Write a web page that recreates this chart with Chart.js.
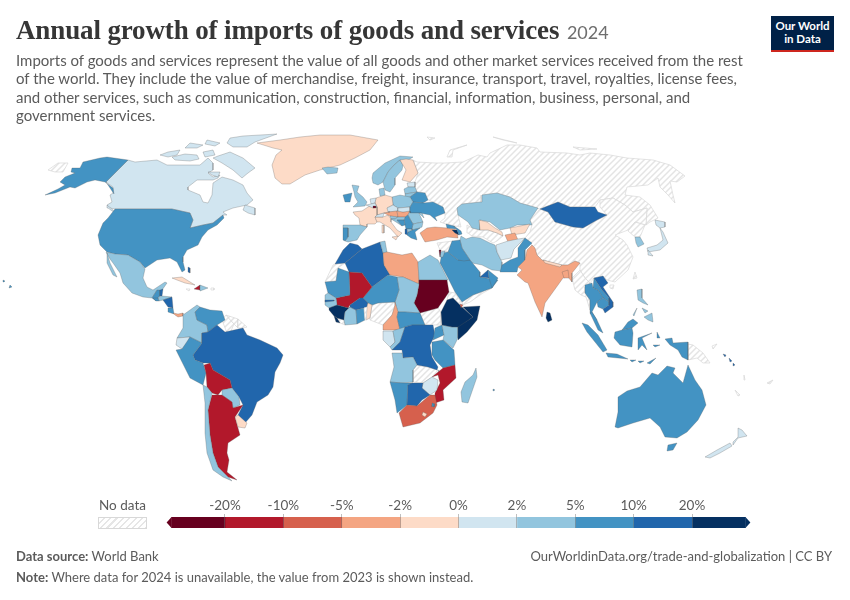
<!DOCTYPE html>
<html>
<head>
<meta charset="utf-8">
<title>Annual growth of imports of goods and services</title>
<script src="https://cdn.jsdelivr.net/npm/chart.js@4"></script>
<style>
  html, body { margin: 0; padding: 0; background: #fff; }
  #page { position: relative; width: 850px; height: 600px; overflow: hidden; font-family: Lato, sans-serif; color: #5b5b5b; }
  #page canvas { position: absolute; left: 0; }
  .txt { position: absolute; white-space: nowrap; }
  #title { left: 16px; top: 15px; font: bold 27px "Liberation Serif", serif; color: #363636; letter-spacing: -0.13px; }
  #title span { font: 18px Lato, sans-serif; color: #6e6e6e; letter-spacing: 0; margin-left: 1px; }
  #subtitle { left: 16px; top: 51px; font-size: 15px; line-height: 18.4px; }
  #logo { position: absolute; left: 771px; top: 16px; width: 63px; height: 34px; background: #002147; border-bottom: 2px solid #ce261e; color: #fff; font-weight: bold; font-size: 11.5px; line-height: 12.5px; text-align: center; }
  #logo div { padding-top: 4px; }
  #nodata { left: 99px; top: 497px; font-size: 13.5px; }
  #swatch { position: absolute; left: 98px; top: 517px; width: 47px; height: 10px; border: 1px solid #d8d8d8; background: repeating-linear-gradient(135deg, #fff 0 3px, #e6e6e6 3px 4.5px); }
  #source { left: 16px; top: 548px; font-size: 13px; }
  #site { right: 18px; top: 548px; font-size: 13px; }
  #note { left: 16px; top: 569px; font-size: 13px; }
</style>
</head>
<body>
<div id="page">
  <canvas id="map" width="850" height="600" style="top:0"></canvas>
  <canvas id="scale" width="850" height="50" style="top:490px"></canvas>
  <div class="txt" id="title">Annual growth of imports of goods and services <span>2024</span></div>
  <div class="txt" id="subtitle">Imports of goods and services represent the value of all goods and other market services received from the rest<br>of the world. They include the value of merchandise, freight, insurance, transport, travel, royalties, license fees,<br>and other services, such as communication, construction, financial, information, business, personal, and<br>government services.</div>
  <div id="logo"><div>Our World<br>in Data</div></div>
  <div class="txt" id="nodata">No data</div>
  <div id="swatch"></div>
  <div class="txt" id="source"><b>Data source:</b> World Bank</div>
  <div class="txt" id="site">OurWorldinData.org/trade-and-globalization | CC BY</div>
  <div class="txt" id="note"><b>Note:</b> Where data for 2024 is unavailable, the value from 2023 is shown instead.</div>
</div>
<script>
// growth in %, only the colour bin can be read off the map so values are estimates. null = no data
const countries = [
  "Russia", "China", "Turkmenistan", "North Korea", "Taiwan", "Myanmar", "Syria", "Yemen", "Eritrea", "South Sudan",
  "Nigeria", "Zambia", "Liberia", "Western Sahara", "Guyana", "Suriname", "French Guiana", "Papua New Guinea", "Jamaica", "New Caledonia",
  "Canada", "United States", "Mexico", "Greenland", "Iceland", "Guatemala", "Belize", "Honduras", "El Salvador", "Nicaragua",
  "Costa Rica", "Panama", "Cuba", "Haiti", "Dominican Republic", "Bahamas", "Colombia", "Venezuela", "Brazil", "Ecuador",
  "Peru", "Bolivia", "Paraguay", "Argentina", "Chile", "Uruguay", "Norway", "Sweden", "Finland", "Estonia",
  "Latvia", "Lithuania", "Belarus", "Poland", "Germany", "Denmark", "United Kingdom", "Ireland", "France", "Spain",
  "Portugal", "Italy", "Switzerland", "Netherlands", "Belgium", "Luxembourg", "Czechia", "Austria", "Hungary", "Slovakia",
  "Slovenia", "Ukraine", "Moldova", "Romania", "Bulgaria", "Serbia", "Croatia", "Bosnia", "Albania", "Greece",
  "Turkey", "Georgia", "Armenia", "Azerbaijan", "Kazakhstan", "Uzbekistan", "Kyrgyzstan", "Tajikistan", "Iran", "Afghanistan",
  "Pakistan", "India", "Nepal", "Bangladesh", "Sri Lanka", "Mongolia", "Saudi Arabia", "Iraq", "Jordan", "Israel",
  "UAE", "Oman", "Morocco", "Algeria", "Tunisia", "Libya", "Egypt", "Sudan", "Chad", "Niger",
  "Mali", "Mauritania", "Senegal", "Guinea", "Sierra Leone", "Ivory Coast", "Burkina Faso", "Ghana", "Benin", "Cameroon",
  "Central African Republic", "Gabon", "Congo", "DR Congo", "Uganda", "Kenya", "Ethiopia", "Somalia", "Djibouti", "Tanzania",
  "Angola", "Malawi", "Mozambique", "Zimbabwe", "Namibia", "Botswana", "South Africa", "Lesotho", "Eswatini", "Madagascar",
  "Vietnam", "Laos", "Thailand", "Cambodia", "Malaysia", "Indonesia", "Philippines", "Japan", "South Korea", "Australia",
  "New Zealand", "Solomon Islands", "Togo", "Fiji", "Vanuatu", "Puerto Rico", "Mauritius", "Gambia", "North Macedonia"
];
const growth = [
  null, null, null, null, null, null, null, null, null, null,
  null, null, null, null, null, null, null, null, null, null,
  1.2, 6.4, 3.6, -0.8, 3.1, 7.2, 12, 4.1, 8, 13,
  6.5, -3.2, -1.1, -14, 3.5, 14, 4.2, 7.5, 14.5, 1.4,
  6.2, -13, 2.8, -11, 3.3, -0.9, 3.7, 3.4, -1.2, 1.1,
  3.2, 2.9, 7.1, 3.8, -0.6, 4.4, 3.6, 8.2, -1.3, 3.9,
  6.8, -0.7, 1.5, 1.3, 1.6, -25, 1.2, -3.1, -2.6, 1.7,
  3.3, 7.6, 4.5, 4.1, 3.2, 8.8, 3.9, 8.3, 12, 7.3,
  -4.2, 7.7, 28, 8.1, 4.3, -1.5, -1.4, -3.3, 3.6, 1.8,
  7.4, -3.9, -1.6, -3.4, 26, 13.5, 6.6, 7.9, 3.4, -22,
  12.5, 7.1, 12.2, 11.8, 3.5, -4.1, 3.1, -32, 3.8, 7.3,
  -14, 7.2, 4.2, 27, 24, 3.7, 13, 7.4, -1.7, -3.6,
  7.8, 1.6, 3.2, 13.2, 8.4, 3.8, 29, 31, -6.5, 7.5,
  3.4, 3.9, -12, 1.9, 7.7, 12.8, -7.2, -1.8, 7.9, 3.3,
  14, 7.2, 6.9, 8.6, 7, 7.1, 3.6, 1.3, 3.5, 6.7,
  1.4, 13.6, null, null, null, null, 7.5, 13, 3.1
];
// country outlines in map units, traced by hand; "|" separates islands and other parts
const outlines = {
  "Russia": "413,160 417,162 435,163 445,163 463,162 478,155 487,157 490,153 507,145 520,145 537,148 540,152 567,153 580,155 590,153 610,155 627,158 653,160 670,165 685,176 677,182 670,181 673,195 675,203 668,195 660,187 658,178 648,185 627,187 625,195 640,197 650,205 658,218 650,222 646,225 647,208 633,212 625,205 613,198 600,200 595,207 570,207 558,202 540,209 520,203 510,197 497,193 482,195 481,202 462,204 457,208 458,215 461,227 455,226 446,224 440,222 445,218 445,213 443,207 433,202 428,200 425,193 417,192 415,187 415,182 418,173|447,157 450,150 467,145 453,150 452,157|493,137 517,143 503,140|573,147 597,149 580,150|427,137 435,138 430,140|48,170 58,163 68,163 63,172 55,172",
  "China": "530,220 540,209 548,212 555,222 573,227 583,228 597,220 607,215 600,207 600,200 613,198 625,205 633,212 647,208 646,225 635,222 628,230 615,235 623,240 627,245 633,257 628,270 615,282 607,280 603,276 594,278 590,283 585,278 580,270 580,263 575,261 568,265 560,265 542,260 537,255 532,245 525,238 530,232 532,225|610,285 614,285 613,289 610,288",
  "Turkmenistan": "467,225 472,228 480,230 488,230 497,233 503,236 497,241 493,243 483,237 472,236 468,233",
  "North Korea": "628,231 635,222 645,225 640,237 635,237",
  "Taiwan": "635,272 637,278 633,279",
  "Myanmar": "572,278 580,270 585,278 590,283 585,287 585,293 590,300 590,310 586,297 581,295 575,290",
  "Syria": "437,243 453,241 448,252 440,250",
  "Yemen": "462,302 473,295 492,288 483,293 470,302 463,305",
  "Eritrea": "449,292 455,293 463,305 460,304 453,298 447,300",
  "South Sudan": "420,313 438,308 441,312 441,323 441,325 433,325 425,325",
  "Nigeria": "372,305 378,303 395,302 395,305 392,315 383,325 370,320 370,318",
  "Zambia": "417,365 428,367 438,370 432,377 423,383 413,382 413,370",
  "Liberia": "337,318 344,320 345,325 340,323",
  "Western Sahara": "325,282 333,265 335,264 345,263 338,268 336,281",
  "Guyana": "222,320 226,315 234,324 230,333 227,333",
  "Suriname": "234,324 226,315 238,319 238,328",
  "French Guiana": "238,319 247,327 243,328 238,328",
  "Papua New Guinea": "688,344 693,345 703,353 710,363 703,363 697,358 688,360|712,346 717,344 713,349",
  "Jamaica": "186,289 190,289 189,291",
  "New Caledonia": "735,390 740,395 738,396",
  "Canada": "128,160 135,162 157,160 167,165 180,165 200,165 208,158 213,163 213,170 208,173 213,177 220,175 218,178 213,180 197,180 188,187 188,190 200,195 203,202 208,203 212,195 213,183 222,177 233,180 243,185 247,193 253,200 247,205 233,208 223,212 227,215 223,215 213,223 203,225 190,228 193,220 190,213 172,209 115,209 110,208 107,205 112,202 110,195 113,193 113,187 106,182|245,205 255,208 255,215 248,213 243,210|107,205 113,210 115,213 108,208|230,138 243,136 277,134 255,142 247,147 233,147 227,143|207,140 220,143 215,146 205,144|190,143 203,145 197,148 185,148|160,155 168,152 180,150 177,155 168,157|172,157 185,154 197,155 199,159 190,161 175,160|218,156 230,152 243,158 255,168 248,173 242,178 233,170 222,163 213,158|208,172 220,172 218,177 212,175|203,152 213,150 215,155 205,157",
  "United States": "115,209 172,209 190,213 193,220 190,228 203,225 213,223 223,215 224,218 217,225 208,230 202,237 198,245 187,250 183,257 183,262 185,270 182,272 177,262 170,258 157,260 145,268 140,262 133,258 128,255 115,254 107,252 100,245 98,235 103,223 108,218|128,160 107,157 100,158 83,162 80,168 72,168 71,172 75,173 65,177 60,182 65,185 58,189 45,195 55,193 70,187 75,188 87,182 95,180 105,182 113,188 114,194 110,188 106,182|10,285 12,287 9,288|3,280 5,281 4,282",
  "Mexico": "106,252 115,254 128,255 133,258 140,262 145,269 143,278 147,287 153,290 165,282 167,283 160,293 157,290 152,298 143,297 132,293 123,283 120,273 113,263 110,259|107,253 110,263 117,277 113,275 107,263",
  "Greenland": "257,143 280,140 300,137 320,135 350,135 378,140 370,150 355,158 340,165 320,170 305,175 290,184 282,184 275,178 272,165 276,155 282,150 273,148",
  "Iceland": "322,168 328,167 338,168 337,173 327,174",
  "Guatemala": "152,298 157,290 160,290 160,296 156,301",
  "Belize": "160,290 163,289 162,296 160,296",
  "Honduras": "158,297 162,296 172,297 163,300 159,301",
  "El Salvador": "153,298 158,298 159,301 156,301",
  "Nicaragua": "163,300 172,297 173,308 168,307",
  "Costa Rica": "168,308 173,308 174,314 168,312",
  "Panama": "173,313 178,314 183,313 183,316 178,317 175,315",
  "Cuba": "172,278 182,277 195,285 185,283 177,280",
  "Haiti": "194,289 200,285 200,290",
  "Dominican Republic": "200,285 208,288 200,291",
  "Bahamas": "188,267 190,268 190,273 188,272",
  "Colombia": "183,315 197,305 200,307 195,312 197,320 207,325 208,332 202,333 202,343 190,337 177,338 183,328",
  "Venezuela": "195,312 200,307 210,310 222,311 225,320 217,325 208,332 207,325 197,320",
  "Brazil": "202,333 208,332 217,325 225,332 243,328 247,335 260,340 277,348 283,355 280,363 275,372 273,387 268,395 257,402 252,415 245,423 238,415 243,405 239,397 232,388 230,380 213,370 210,363 203,363 195,360 193,355 202,343",
  "Ecuador": "177,338 190,337 188,342 182,349 176,345",
  "Peru": "190,337 202,343 193,355 195,360 203,363 206,373 203,385 190,378 182,362 176,350 182,349",
  "Bolivia": "204,365 210,363 213,370 230,380 232,388 222,390 218,395 212,393 207,387 206,373",
  "Paraguay": "222,390 232,388 239,397 240,405 233,408 232,402 222,395",
  "Argentina": "212,395 218,395 222,395 232,402 233,408 243,405 235,417 238,428 240,435 228,443 227,453 229,460 227,472 237,480 228,477 218,467 213,453 210,435 208,410",
  "Chile": "203,385 207,387 212,393 208,410 210,435 213,453 218,467 228,477 232,481 223,477 213,470 207,453 205,433 205,403",
  "Uruguay": "235,417 238,415 247,423 245,428 238,427",
  "Norway": "372,178 373,173 385,163 400,156 413,157 405,162 400,160 394,165 388,172 383,182 378,185 373,183",
  "Sweden": "383,182 388,172 394,165 400,160 403,165 402,170 395,178 395,185 390,192 385,190",
  "Finland": "403,165 400,160 406,159 413,160 418,173 410,182 402,180 406,170",
  "Estonia": "407,183 415,182 415,187 408,187",
  "Latvia": "404,189 408,187 415,187 417,192 405,194",
  "Lithuania": "405,194 417,192 410,197 405,198",
  "Belarus": "410,197 417,192 425,193 428,200 423,203 413,202",
  "Poland": "392,197 400,195 410,197 413,202 410,207 398,208 393,205",
  "Germany": "376,198 385,195 392,197 393,205 387,208 390,212 384,213 377,215 377,207 375,203",
  "Denmark": "379,189 384,188 385,195 380,196",
  "United Kingdom": "352,185 359,186 357,192 363,197 367,202 365,206 353,207 358,202 355,197 354,192",
  "Ireland": "343,195 352,193 350,202 345,202",
  "France": "353,212 362,211 368,207 375,203 377,207 377,215 375,217 377,222 375,224 367,224 367,227 360,225 359,218 355,215",
  "Spain": "343,225 360,225 367,227 360,235 357,240 348,242 345,241 348,237 348,228 343,228",
  "Portugal": "343,228 348,228 348,237 345,241 343,240",
  "Italy": "377,222 375,217 383,217 388,215 391,219 391,222 397,230 402,233 398,237 390,228 380,222|392,237 398,236 396,240|382,225 384,225 384,233 382,233",
  "Switzerland": "377,215 384,213 383,217 375,217",
  "Netherlands": "370,199 376,198 375,203 371,204",
  "Belgium": "366,205 371,204 375,203 377,207 373,208",
  "Luxembourg": "373,206 376,206 376,208 373,208",
  "Czechia": "387,208 393,205 398,208 398,211 388,212",
  "Austria": "384,213 390,212 388,212 397,211 398,217 390,216",
  "Hungary": "397,211 403,212 410,211 408,215 405,217 398,217",
  "Slovakia": "398,208 410,207 410,211 403,212 398,211",
  "Slovenia": "390,216 398,217 395,219 391,219",
  "Ukraine": "410,207 413,202 423,203 433,202 443,207 445,213 435,217 437,221 430,215 420,213 410,213 410,211",
  "Moldova": "419,213 422,213 424,218",
  "Romania": "408,215 410,211 410,213 419,213 423,222 413,224 410,219",
  "Bulgaria": "413,224 423,222 422,227 420,228 412,230 412,229",
  "Serbia": "404,220 405,217 408,215 410,219 413,224 412,229 406,229 405,225",
  "Croatia": "391,219 395,219 398,217 405,217 404,220 397,220 402,226 396,222",
  "Bosnia": "397,220 404,220 405,225 402,226",
  "Albania": "405,229 407,229 408,235 405,234",
  "Greece": "407,235 408,232 412,230 420,228 415,232 417,240 411,238",
  "Turkey": "420,233 427,228 435,227 447,228 457,230 458,238 447,237 437,240 425,242",
  "Georgia": "446,224 454,226 456,229 447,228",
  "Armenia": "452,230 457,230 459,235 455,233",
  "Azerbaijan": "454,226 461,231 462,234 459,235 457,230",
  "Kazakhstan": "457,208 462,204 481,202 482,195 497,193 510,197 520,203 538,208 530,220 532,225 517,225 510,228 500,230 490,222 480,220 480,230 472,228 468,222 458,215",
  "Uzbekistan": "479,220 487,222 495,228 502,232 503,236 497,233 488,230 480,230",
  "Kyrgyzstan": "510,228 530,224 525,233 512,235",
  "Tajikistan": "505,235 515,233 518,240 508,242",
  "Iran": "461,236 466,239 472,237 480,238 490,243 495,245 497,252 502,262 502,271 492,270 482,265 472,263 462,248 460,240",
  "Afghanistan": "496,245 508,241 518,239 525,238 514,249 511,258 501,260 497,252",
  "Pakistan": "525,238 532,243 525,250 525,260 518,267 517,272 500,272 502,265 510,260 518,257 518,248",
  "India": "532,245 535,248 537,255 542,260 560,265 568,265 575,261 580,263 572,273 572,282 568,277 563,278 558,285 545,303 542,317 535,302 528,283 525,282 517,275 522,270 518,267 525,260 527,250",
  "Nepal": "543,260 555,263 562,265 560,267 545,263",
  "Bangladesh": "562,272 568,270 569,278 564,278",
  "Sri Lanka": "547,312 550,313 552,320 548,322 546,318",
  "Mongolia": "540,209 558,202 570,207 595,207 598,212 607,215 597,220 583,228 573,227 555,222 548,212",
  "Saudi Arabia": "442,253 448,252 458,260 470,260 480,272 480,277 498,280 492,288 473,295 462,302 455,292 448,278 440,263",
  "Iraq": "452,241 460,240 462,248 470,260 464,261 458,260 448,252",
  "Jordan": "440,252 445,251 443,257 440,257",
  "Israel": "439,250 441,250 440,257",
  "UAE": "480,277 488,270 489,278",
  "Oman": "488,270 498,278 492,288 489,278",
  "Morocco": "335,264 343,250 350,243 358,245 362,249 345,263",
  "Algeria": "362,249 380,242 383,253 384,265 390,275 388,275 372,287 362,273 349,272 345,263",
  "Tunisia": "380,242 385,241 387,252 383,253",
  "Libya": "387,252 402,255 412,253 418,262 419,280 419,284 403,277 390,275 384,265 383,253",
  "Egypt": "418,262 430,255 438,260 448,280 419,280",
  "Sudan": "419,280 447,280 449,292 445,298 440,305 438,308 420,313 414,303 417,295 419,284",
  "Chad": "397,277 403,277 419,284 417,295 414,303 420,313 405,312 398,312 395,302 399,290",
  "Niger": "372,287 388,275 397,277 399,290 395,302 378,303 372,305 368,303 363,298",
  "Mali": "349,272 362,273 372,287 363,298 360,298 350,305 348,308 337,305 336,298 350,295",
  "Mauritania": "325,282 336,281 338,268 349,272 350,295 336,298 328,293",
  "Senegal": "325,295 328,293 336,298 337,305 329,308 325,305",
  "Guinea": "329,310 329,308 337,305 348,308 350,307 345,312 344,320 337,318 334,316",
  "Sierra Leone": "334,316 337,318 340,323 336,322",
  "Ivory Coast": "345,312 350,307 356,310 357,324 345,325 344,320",
  "Burkina Faso": "350,305 360,298 363,298 368,303 367,307 364,308 356,310 350,307",
  "Ghana": "356,310 364,308 365,320 357,324",
  "Benin": "367,307 368,303 372,305 370,318 366,320",
  "Cameroon": "395,302 398,312 397,317 400,330 383,330 383,325 392,315 395,305",
  "Central African Republic": "397,317 398,312 405,312 420,313 425,325 412,325 405,327 400,330",
  "Gabon": "383,331 393,331 395,342 390,347 383,340",
  "Congo": "395,330 405,327 400,342 392,350 390,347 395,342 393,331",
  "DR Congo": "405,327 412,325 433,325 435,335 430,345 432,357 438,367 437,370 428,367 417,365 413,357 403,358 402,350 392,350 400,342",
  "Uganda": "435,328 442,325 444,335 433,340",
  "Kenya": "442,325 452,327 458,327 458,338 453,348 443,340 444,335",
  "Ethiopia": "447,300 453,298 462,307 473,317 460,327 452,327 442,325 441,312",
  "Somalia": "463,307 480,306 477,320 467,332 458,340 458,327 473,317",
  "Djibouti": "460,304 463,305 461,308",
  "Tanzania": "432,342 443,340 454,350 455,365 443,368 435,360 432,355",
  "Angola": "392,353 402,353 403,358 413,357 417,365 413,370 413,382 403,383 390,382 394,367",
  "Malawi": "438,370 441,372 443,380 441,380 439,375",
  "Mozambique": "443,368 455,365 456,378 443,390 444,400 435,403 435,393 440,383 438,375 432,377",
  "Zimbabwe": "423,383 432,377 438,380 437,390 430,395 422,388",
  "Namibia": "390,382 403,383 413,383 408,385 407,405 397,413 395,400",
  "Botswana": "412,383 423,383 422,388 430,395 422,400 417,406 407,405 408,385",
  "South Africa": "399,413 407,405 417,406 430,395 435,395 437,405 433,413 420,423 403,427",
  "Lesotho": "423,412 427,414 425,417 422,415",
  "Eswatini": "432,403 435,404 434,407 431,406",
  "Madagascar": "476,368 477,377 468,403 462,402 461,392 465,382 473,375",
  "Vietnam": "594,278 603,276 608,283 603,287 613,302 613,307 605,313 603,309 609,305 609,298 602,290",
  "Laos": "594,278 602,290 609,298 609,302 603,298 598,290 593,288",
  "Thailand": "585,285 592,283 593,288 598,290 603,298 597,302 592,312 597,320 590,313 590,300 585,293",
  "Cambodia": "597,302 603,298 609,302 609,305 603,309 598,307",
  "Malaysia": "592,312 597,320 603,333 598,330 590,313|628,322 633,319 638,323 632,328 622,330",
  "Indonesia": "582,323 588,325 598,335 607,350 603,352 595,342 587,332|606,353 617,354 628,359 618,358 608,357|615,332 622,330 632,328 633,333 632,347 620,345 614,338|638,338 652,333 642,338 647,350 642,345 638,350|665,339 672,338 673,343 688,342 688,360 682,357 678,350 670,345|657,332 660,338 657,338|647,363 656,358 650,364|630,360 636,360 632,362|638,361 644,361 640,363|653,345 660,345 655,347",
  "Philippines": "637,290 642,289 642,298 648,305 643,303 638,300|644,317 652,313 653,322 648,320|642,308 648,311 645,313|633,315 637,308 634,316",
  "Japan": "655,220 665,222 665,227 660,228 656,225|660,228 663,232 668,243 660,250 648,252 647,248 657,245 663,240|648,250 653,256 648,255",
  "South Korea": "635,237 640,237 644,244 638,247 636,243",
  "Australia": "658,375 667,366 675,368 673,373 683,383 688,365 695,380 702,390 706,405 698,420 687,432 677,438 665,437 660,427 650,418 633,423 618,428 615,427 618,412 618,397 627,391 640,387 652,373|668,445 677,443 673,450 667,451",
  "New Zealand": "738,428 742,430 747,436 738,438 733,445 733,442 738,437|730,443 732,446 720,453 710,458 705,457 717,450",
  "Solomon Islands": "723,354 726,355 725,357|729,358 732,361 730,362|733,363 735,365 733,366",
  "Togo": "364,308 367,307 366,320 365,320",
  "Fiji": "767,383 773,380 770,384",
  "Vanuatu": "744,375 745,380 744,380",
  "Puerto Rico": "211,288 214,288 214,290 211,290",
  "Mauritius": "493,389 495,390 493,391",
  "Gambia": "325,300 334,300 334,301 325,302",
  "North Macedonia": "407,229 412,229 412,230 408,232"
};

const binEdges = [-20, -10, -5, -2, 0, 2, 5, 10, 20];
const binLabels = ["-20%", "-10%", "-5%", "-2%", "0%", "2%", "5%", "10%", "20%"];
const binColors = ["#67001f", "#b2182b", "#d6604d", "#f4a582", "#fddbc7", "#d1e5f0", "#92c5de", "#4393c3", "#2166ac", "#053061"];

function makeHatch() {
  const c = document.createElement("canvas");
  c.width = 6;
  c.height = 6;
  const g = c.getContext("2d");
  g.fillStyle = "#fff";
  g.fillRect(0, 0, 6, 6);
  g.strokeStyle = "#e4e4e4";
  g.lineWidth = 1.5;
  g.beginPath();
  g.moveTo(-3, 3); g.lineTo(3, -3);
  g.moveTo(0, 6); g.lineTo(6, 0);
  g.moveTo(3, 9); g.lineTo(9, 3);
  g.stroke();
  return g.createPattern(c, "repeat");
}

function colorFor(v) {
  return binColors[binEdges.filter((e) => e <= v).length];
}

function parseRing(ring) {
  const pts = ring.split(" ").map((p) => {
    const [x, y] = p.split(",").map(Number);
    return { x, y };
  });
  pts.push(pts[0]);
  return pts;
}

const hatch = makeHatch();
const datasets = [];
countries.forEach((name, i) => {
  const noData = growth[i] === null;
  outlines[name].split("|").forEach((ring) => {
    datasets.push({
      label: name,
      data: parseRing(ring),
      showLine: true,
      fill: "shape",
      backgroundColor: noData ? hatch : colorFor(growth[i]),
      borderColor: noData ? "#d9d9d9" : "rgba(90,90,90,0.4)",
      borderWidth: 0.7,
      pointRadius: 0,
      tension: 0,
    });
  });
});
datasets.reverse(); // chart.js paints the first dataset last, no-data has to stay underneath

new Chart(document.getElementById("map"), {
  type: "scatter",
  data: { datasets: datasets },
  options: {
    responsive: false,
    animation: false,
    events: [],
    layout: { padding: 0 },
    plugins: { legend: { display: false }, tooltip: { enabled: false } },
    scales: {
      x: { type: "linear", min: 0, max: 850, display: false },
      y: { type: "linear", min: 0, max: 600, reverse: true, display: false },
    },
  },
});

// colour scale: bins drawn on an index axis so that they come out equal in width
const arrowEnds = {
  id: "arrowEnds",
  afterDatasetsDraw(chart) {
    const { ctx, chartArea, scales } = chart;
    const tips = [[0, 0.085, binColors[0]], [10, 9.915, binColors[9]]];
    tips.forEach(([tip, base, col]) => {
      ctx.fillStyle = col;
      ctx.beginPath();
      ctx.moveTo(scales.x.getPixelForValue(base), chartArea.top);
      ctx.lineTo(scales.x.getPixelForValue(tip), (chartArea.top + chartArea.bottom) / 2);
      ctx.lineTo(scales.x.getPixelForValue(base), chartArea.bottom);
      ctx.closePath();
      ctx.fill();
    });
  },
};

new Chart(document.getElementById("scale"), {
  type: "bar",
  data: {
    labels: [""],
    datasets: binColors.map((col, i) => ({
      data: [[i === 0 ? 0.085 : i, i === 9 ? 9.915 : i + 1]],
      backgroundColor: col,
      barPercentage: 1,
      categoryPercentage: 1,
      grouped: false,
    })),
  },
  plugins: [arrowEnds],
  options: {
    indexAxis: "y",
    responsive: false,
    animation: false,
    events: [],
    layout: { padding: { left: 166.6, right: 99.6, top: 8, bottom: 12 } },
    plugins: { legend: { display: false }, tooltip: { enabled: false } },
    scales: {
      y: { display: false },
      x: {
        type: "linear",
        position: "top",
        min: 0,
        max: 10,
        afterBuildTicks: (axis) => {
          axis.ticks = binLabels.map((_, i) => ({ value: i + 1 }));
        },
        // the layout caps an axis at half the canvas, too little for this short bar
        afterFit: (axis) => {
          axis.height = 19;
        },
        ticks: {
          autoSkip: false,
          maxRotation: 0,
          padding: 0,
          color: "#5b5b5b",
          font: { family: "Lato", size: 13.5 },
          callback: (v) => binLabels[v - 1],
        },
        grid: { z: 1, drawTicks: true, tickLength: 3, color: "rgba(110,110,110,0.55)", lineWidth: 0.8 },
        border: { display: false },
      },
    },
  },
});
</script>
</body>
</html>
